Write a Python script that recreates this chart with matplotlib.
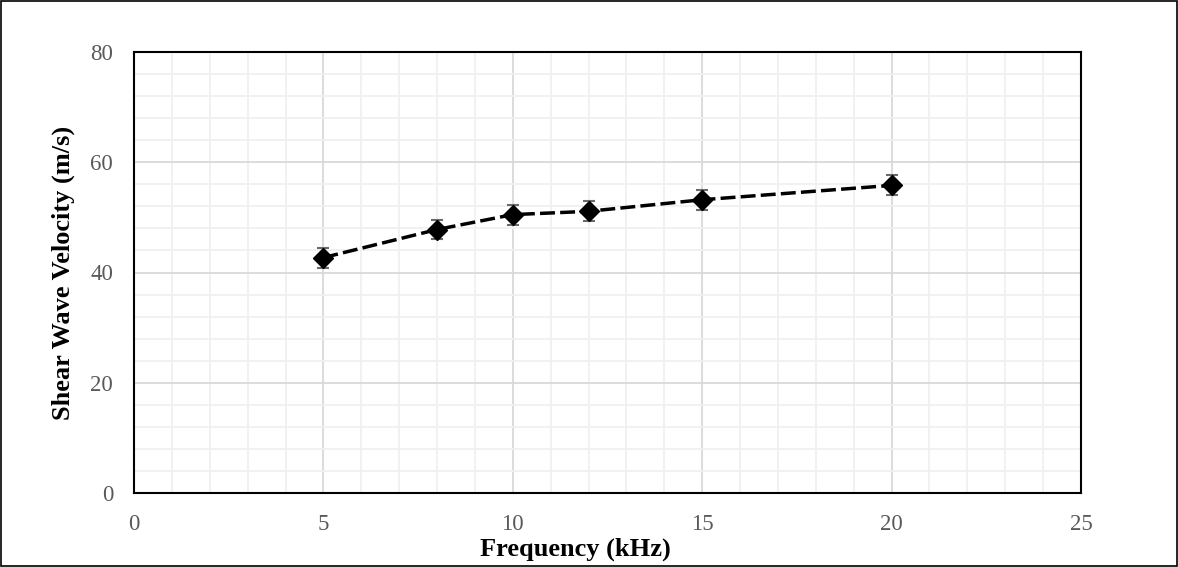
import matplotlib.pyplot as plt
from matplotlib.ticker import MultipleLocator

# datos
frecuencia = [5, 8, 10, 12, 15, 20]
velocidad = [42.7, 47.8, 50.5, 51.1, 53.2, 55.8]
error = [1.8, 1.8, 1.8, 1.8, 1.8, 1.8]

plt.rcParams['font.family'] = ['Liberation Serif', 'DejaVu Serif']

fig = plt.figure(figsize=(11.78, 5.67), dpi=100)
ax = fig.add_axes([134 / 1178, 1 - 493 / 567, (1081 - 134) / 1178, (493 - 52) / 567])

# borde de la figura
fig.patches.append(plt.Rectangle((0.001, 0.001), 0.998, 0.998, transform=fig.transFigure,
                                 fill=False, edgecolor='black', linewidth=1.2))

ax.errorbar(frecuencia, velocidad, yerr=error, fmt='none', ecolor='#6a6a6a',
            elinewidth=1.5, capsize=4.5, capthick=1.5, zorder=3)
ax.plot(frecuencia, velocidad, color='black', linestyle=(0, (4.3, 1.5)), linewidth=2.5,
        marker='D', markersize=10, zorder=4)

ax.set_xlim(0, 25)
ax.set_ylim(0, 80)
ax.xaxis.set_major_locator(MultipleLocator(5))
ax.yaxis.set_major_locator(MultipleLocator(20))
ax.xaxis.set_minor_locator(MultipleLocator(1))
ax.yaxis.set_minor_locator(MultipleLocator(4))
ax.grid(which='major', color='#d9d9d9', linewidth=1.3)
ax.grid(which='minor', color='#f0f0f0', linewidth=1.3)
ax.set_axisbelow(True)
ax.tick_params(which='both', length=0, labelsize=16.5, labelcolor='#595959')
ax.tick_params(axis='x', pad=15)
ax.tick_params(axis='y', pad=15)

for lado in ax.spines.values():
    lado.set_color('black')
    lado.set_linewidth(1.5)

ax.set_xlabel('Frequency (kHz)', fontsize=19, fontweight='bold', labelpad=2)
ax.xaxis.label.set_x(0.466)
ax.set_ylabel('Shear Wave Velocity (m/s)', fontsize=19, fontweight='bold', labelpad=11)

fig.savefig('out.png', dpi=100)
